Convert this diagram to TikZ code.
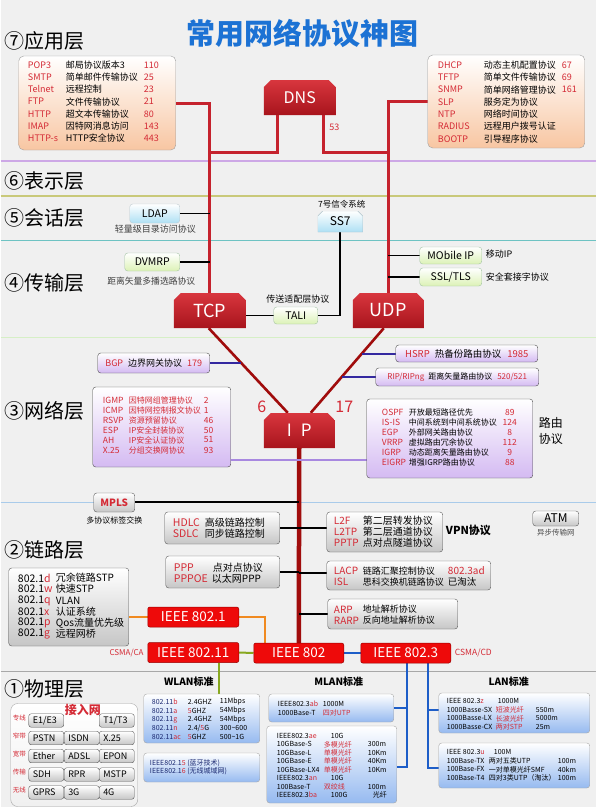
\documentclass[tikz,border=0pt]{standalone}
\usepackage{fontspec}
\setmainfont{Noto Sans CJK SC}
\usetikzlibrary{calc}
\pgfdeclarelayer{bgl}
\pgfdeclarelayer{lnl}
\pgfsetlayers{bgl,lnl,main}

\definecolor{bgc}{HTML}{F0F0F0}
\definecolor{pred}{HTML}{D42A35}
\definecolor{lred}{HTML}{C5222D}
\definecolor{dred}{HTML}{A00C0C}
\definecolor{boxtop}{HTML}{D8363E}
\definecolor{boxbot}{HTML}{A8141C}
\definecolor{ieee}{HTML}{EE0A0A}
\definecolor{purp}{HTML}{D4BAF2}
\definecolor{grn}{HTML}{DCF2B6}
\definecolor{cyn}{HTML}{AEE0F4}
\definecolor{peach}{HTML}{F8C6A2}
\definecolor{gry}{HTML}{C6C6C6}
\definecolor{blu}{HTML}{96BAF0}
\definecolor{titleblue}{HTML}{1C72D4}
\definecolor{bline}{HTML}{3428A0}
\definecolor{pline}{HTML}{A888E0}
\definecolor{oline}{HTML}{F08A20}
\definecolor{gline}{HTML}{88A820}
\definecolor{blline}{HTML}{1E5EC8}
\definecolor{navy}{HTML}{1A2870}
\definecolor{sepA}{HTML}{CDA8E6}
\definecolor{sepB}{HTML}{C9C97A}
\definecolor{sepC}{HTML}{6EC3C3}
\definecolor{sepD}{HTML}{D6EFC6}
\definecolor{sepE}{HTML}{A9CBEA}
\definecolor{sepF}{HTML}{A8A8A8}

\newcommand{\fsz}[1]{\fontsize{#1}{#1}\selectfont}
\newcommand{\rd}[1]{\textcolor{pred}{#1}}

\begin{document}
\begin{tikzpicture}[x=1pt,y=-1pt,
  txt/.style={anchor=west,inner sep=0pt},
  sm/.style={font=\fsz{7}},
  rbox/.style={rounded corners=3pt,inner sep=0pt,top color=white},
  peachbox/.style={rbox,rounded corners=5pt,bottom color=peach,draw=gray!75},
  purpbox/.style={rbox,bottom color=purp,draw=gray!60!black},
  grnbox/.style={rbox,bottom color=grn,draw=green!20!gray!60},
  cynbox/.style={rbox,bottom color=cyn,draw=cyan!20!gray!50},
  grybox/.style={rbox,bottom color=gry,draw=gray!70!black},
  blubox/.style={rbox,bottom color=blu,draw=gray!70},
  bigred/.style={minimum width=#1,minimum height=35pt,inner sep=0pt,text=white,fill=bgc,
    path picture={\shade[top color=boxtop,bottom color=boxbot]
      ([xshift=7pt]path picture bounding box.north west)
      -- ([xshift=-7pt]path picture bounding box.north east)
      -- ([yshift=-7pt]path picture bounding box.north east)
      -- (path picture bounding box.south east)
      -- (path picture bounding box.south west)
      -- ([yshift=-7pt]path picture bounding box.north west) -- cycle;}},
  ss7box/.style={minimum width=45pt,minimum height=21pt,inner sep=0pt,fill=bgc,
    path picture={\shadedraw[top color=white,bottom color=cyn,draw=cyan!25!gray!60]
      ([xshift=5pt]path picture bounding box.north west)
      -- ([xshift=-5pt]path picture bounding box.north east)
      -- ([yshift=-5pt]path picture bounding box.north east)
      -- (path picture bounding box.south east)
      -- (path picture bounding box.south west)
      -- ([yshift=-5pt]path picture bounding box.north west) -- cycle;}},
  ieee/.style={fill=ieee,draw=red!60!black,line width=0.5pt,rounded corners=2pt,text=white,
    font=\fsz{13.5},minimum height=20pt,minimum width=#1,inner sep=0pt},
  btn/.style={grybox,rounded corners=2.5pt,minimum width=35pt,minimum height=13.5pt,
    text width=27pt,align=left,inner xsep=4pt,font=\fsz{9}},
  redl/.style={draw=lred,line width=3pt},
  dredl/.style={draw=dred,line width=2.6pt},
  spine/.style={draw=dred,line width=4.5pt},
  blk/.style={draw=black,line width=1.6pt},
  bpl/.style={draw=bline,line width=2pt},
  ppl/.style={draw=pline,line width=1.6pt},
  orl/.style={draw=oline,line width=2pt},
  grl/.style={draw=gline,line width=2pt},
  bll/.style={draw=blline,line width=2pt}]

% ---------- background and layer separators ----------
\begin{pgfonlayer}{bgl}
\fill[bgc] (0,0) rectangle (595,807);
\draw[sepA,line width=1.5pt] (0,161) -- (595,161);
\draw[sepB,line width=1.5pt] (0,196) -- (595,196);
\draw[sepC,line width=1pt] (0,240) -- (595,240);
\draw[sepD,line width=1pt] (0,337) -- (595,337);
\draw[sepE,line width=1pt] (0,502) -- (595,502);
\draw[sepF,line width=1pt] (0,671) -- (595,671);
\end{pgfonlayer}
\useasboundingbox (0,0) rectangle (595,807);

% ---------- title and layer names ----------
\node[font=\fsz{29}\bfseries,text=titleblue,inner sep=0pt] (title) at (302,33) {常用网络协议神图};
\foreach \lab/\yy [count=\i] in {⑦应用层/41,⑥表示层/181,⑤会话层/218,④传输层/283,③网络层/411,②链路层/550,①物理层/689}
  \node[txt,font=\fsz{20}] (layer\i) at (4,\yy) {\lab};

% ---------- application layer ----------
\node[peachbox,minimum width=157pt,minimum height=94pt] (appL) at (96.5,103) {};
\foreach \n/\d/\p [count=\i] in {POP3/邮局协议版本3/110,SMTP/简单邮件传输协议/25,Telnet/远程控制/23,FTP/文件传输协议/21,HTTP/超文本传输协议/80,IMAP/因特网消息访问/143,HTTP-s/HTTP安全协议/443}{
  \pgfmathsetmacro\yy{65+12.2*(\i-1)}
  \node[txt,text=pred,font=\fsz{9}] (appLn\i) at (27,\yy) {\n};
  \node[txt,font=\fsz{9}] (appLd\i) at (65,\yy) {\d};
  \node[txt,text=pred,font=\fsz{9}] (appLp\i) at (143,\yy) {\p};
}
\node[peachbox,minimum width=157pt,minimum height=93pt] (appR) at (505.5,101.5) {};
\foreach \n/\d/\p [count=\i] in {DHCP/动态主机配置协议/67,TFTP/简单文件传输协议/69,SNMP/简单网络管理协议/161,SLP/服务定为协议/{},NTP/网络时间协议/{},RADIUS/远程用户拨号认证/{},BOOTP/引导程序协议/{}}{
  \pgfmathsetmacro\yy{65+12.3*(\i-1)}
  \node[txt,text=pred,font=\fsz{9}] (appRn\i) at (437,\yy) {\n};
  \node[txt,font=\fsz{9}] (appRd\i) at (483,\yy) {\d};
  \node[txt,text=pred,font=\fsz{9}] (appRp\i) at (561,\yy) {\p};
}
\node[bigred=72pt,font=\fsz{16}] (dns) at (299,97.5) {DNS};
\node[text=pred,font=\fsz{9},inner sep=0pt] (p53) at (333.5,127) {53};

% ---------- session / transport ----------
\node[cynbox,minimum width=50pt,minimum height=19pt,font=\fsz{10.5}] (ldap) at (154,213.5) {LDAP};
\node[font=\fsz{9},text=black!75,inner sep=0pt] (ldapt) at (154.5,229) {轻量级目录访问协议};
\node[grnbox,minimum width=55pt,minimum height=18pt,font=\fsz{10.5}] (dvmrp) at (151.5,262) {DVMRP};
\node[font=\fsz{8.8},text=black!75,inner sep=0pt] (dvmrpt) at (150.5,281) {距离矢量多播选路协议};
\node[ss7box,font=\fsz{12}] (ss7) at (339.5,221.5) {SS7};
\node[font=\fsz{8.5},inner sep=0pt] (ss7t) at (341,204) {7号信令系统};
\node[grnbox,minimum width=62pt,minimum height=17pt,font=\fsz{10.5}] (mob) at (450,255.5) {MObile IP};
\node[txt,font=\fsz{9}] (mobt) at (485,254) {移动IP};
\node[grnbox,minimum width=62pt,minimum height=18pt,font=\fsz{10.5}] (ssl) at (450,277) {SSL/TLS};
\node[txt,font=\fsz{9}] (sslt) at (485,277) {安全套接字协议};
\node[grnbox,minimum width=44pt,minimum height=17pt,font=\fsz{10.5}] (tali) at (295,315.5) {TALI};
\node[font=\fsz{9},inner sep=0pt] (talit) at (297,299) {传送适配层协议};
\node[bigred=72pt,font=\fsz{18}] (tcp) at (209,310.5) {TCP};
\node[bigred=71pt,font=\fsz{18}] (udp) at (387.5,310.5) {UDP};

% ---------- network layer ----------
\node[bigred=71pt,font=\fsz{17}] (ip) at (298.5,430.5) {I\hspace{9pt}P};
\node[text=pred,font=\fsz{16},inner sep=0pt] (n6) at (261,407) {6};
\node[text=pred,font=\fsz{16},inner sep=0pt] (n17) at (343.5,407) {17};
\node[purpbox,minimum width=112pt,minimum height=20pt,font=\fsz{9}] (bgp) at (153,363) {\rd{BGP}\hspace{5pt}边界网关协议\hspace{5pt}\rd{179}};
\node[purpbox,minimum width=142pt,minimum height=17pt,font=\fsz{9.5}] (hsrp) at (466,353.5) {\rd{HSRP}\hspace{5pt}热备份路由协议\hspace{6pt}\rd{1985}};
\node[purpbox,minimum width=163pt,minimum height=18pt,font=\fsz{8}] (rip) at (456.5,377) {\rd{RIP/RIPng}\hspace{4pt}距离矢量路由协议\hspace{5pt}\rd{520/521}};
\node[purpbox,minimum width=138pt,minimum height=80pt] (netL) at (161,427) {};
\foreach \n/\d/\p [count=\i] in {IGMP/因特网组管理协议/2,ICMP/因特网控制报文协议/1,RSVP/资源预留协议/46,ESP/IP安全封装协议/50,AH/IP安全认证协议/51,X.25/分组交换网协议/93}{
  \pgfmathsetmacro\yy{400+10*(\i-1)}
  \node[txt,text=pred,font=\fsz{8.5}] (netLn\i) at (102,\yy) {\n};
  \node[txt,text=pred,font=\fsz{8}] (netLd\i) at (128,\yy) {\d};
  \node[txt,text=pred,font=\fsz{8.5}] (netLp\i) at (203,\yy) {\p};
}
\node[purpbox,minimum width=166pt,minimum height=79pt] (netR) at (449,438.5) {};
\foreach \n/\d/\p [count=\i] in {OSPF/开放最短路径优先/89,IS-IS/中间系统到中间系统协议/124,EGP/外部网关路由协议/8,VRRP/虚拟路由冗余协议/112,IGRP/动态距离矢量路由协议/9,EIGRP/增强IGRP路由协议/88}{
  \pgfmathsetmacro\yy{412+10*(\i-1)}
  \node[txt,text=pred,font=\fsz{8.5}] (netRn\i) at (381,\yy) {\n};
  \node[txt,font=\fsz{8}] (netRd\i) at (408,\yy) {\d};
  \node[text=pred,font=\fsz{8.5},inner sep=0pt] (netRp\i) at (509,\yy) {\p};
}
\node[txt,font=\fsz{12}] (rt1) at (538,423) {路由};
\node[txt,font=\fsz{12}] (rt2) at (538,439) {协议};

% ---------- link layer ----------
\node[grybox,minimum width=41pt,minimum height=19pt,font=\fsz{10}\bfseries,text=pred] (mpls) at (113.5,502.5) {MPLS};
\node[font=\fsz{8},inner sep=0pt] (mplst) at (113.5,520) {多协议标签交换};
\node[grybox,minimum width=115pt,minimum height=32pt] (hdlc) at (221.5,528) {};
\node[txt,text=pred,font=\fsz{10.5}] (hdlc1) at (172,523) {HDLC};
\node[txt,font=\fsz{10}] (hdlc1d) at (204,523) {高级链路控制};
\node[txt,text=pred,font=\fsz{10.5}] (hdlc2) at (172,534) {SDLC};
\node[txt,font=\fsz{10}] (hdlc2d) at (204,534) {同步链路控制};
\node[grybox,minimum width=114pt,minimum height=32pt] (ppp) at (222,572) {};
\node[txt,text=pred,font=\fsz{10.5}] (ppp1) at (173,567.5) {PPP};
\node[txt,font=\fsz{10}] (ppp1d) at (212,567.5) {点对点协议};
\node[txt,text=pred,font=\fsz{10.5}] (ppp2) at (173,578.5) {PPPOE};
\node[txt,font=\fsz{10}] (ppp2d) at (211,578.5) {以太网PPP};
\node[grybox,minimum width=116pt,minimum height=40pt] (l2f) at (384,532) {};
\foreach \n/\d [count=\i] in {L2F/第二层转发协议,L2TP/第二层通道协议,PPTP/点对点隧道协议}{
  \pgfmathsetmacro\yy{521+11*(\i-1)}
  \node[txt,text=pred,font=\fsz{10}] (l2fn\i) at (333,\yy) {\n};
  \node[txt,font=\fsz{10}] (l2fd\i) at (362,\yy) {\d};
}
\node[txt,font=\fsz{11}\bfseries] (vpn) at (445,530) {VPN协议};
\node[grybox,minimum width=164pt,minimum height=29pt] (lacp) at (408,575.5) {};
\node[txt,text=pred,font=\fsz{10}] (lacp1) at (333,571) {LACP};
\node[txt,font=\fsz{9}] (lacp1d) at (362,571) {链路汇聚控制协议};
\node[txt,text=pred,font=\fsz{10}] (lacp1x) at (447,571) {802.3ad};
\node[txt,text=pred,font=\fsz{10}] (lacp2) at (333,582) {ISL};
\node[txt,font=\fsz{9}] (lacp2d) at (362,582) {思科交换机链路协议};
\node[txt,font=\fsz{9.5}] (lacp2x) at (447,582) {已淘汰};
\node[grybox,minimum width=130pt,minimum height=30pt] (arp) at (392,614) {};
\node[txt,text=pred,font=\fsz{10}] (arp1) at (333,609.5) {ARP};
\node[txt,font=\fsz{9}] (arp1d) at (362,609.5) {地址解析协议};
\node[txt,text=pred,font=\fsz{10}] (arp2) at (333,620.5) {RARP};
\node[txt,font=\fsz{9}] (arp2d) at (362,620.5) {反向地址解析协议};
\node[grybox,minimum width=46pt,minimum height=15pt,font=\fsz{12}] (atm) at (555,518.5) {ATM};
\node[font=\fsz{7.5},text=black!70,inner sep=0pt] (atmt) at (555,533) {异步传输网};
\node[grybox,minimum width=120pt,minimum height=78pt] (l8021) at (68,607) {};
\foreach \s/\d [count=\i] in {d/冗余链路STP,w/快速STP,q/VLAN,x/认证系统,p/Qos流量优先级,g/远程网桥}{
  \pgfmathsetmacro\yy{578+11.2*(\i-1)}
  \node[txt,font=\fsz{10.5}] (l8021n\i) at (17,\yy) {802.1\rd{\s}};
  \node[txt,font=\fsz{10}] (l8021d\i) at (55,\yy) {\d};
}
\node[ieee=91pt] (i8021) at (192.5,617) {IEEE 802.1};
\node[ieee=91pt] (i80211) at (192.5,652.5) {IEEE 802.11};
\node[ieee=90pt] (i802) at (298,653) {IEEE 802};
\node[ieee=90pt] (i8023) at (405,653) {IEEE 802.3};
\node[anchor=east,text=pred,font=\fsz{8},inner sep=0pt] (csmaca) at (143,653) {CSMA/CA};
\node[txt,text=pred,font=\fsz{8.5}] (csmacd) at (454,653) {CSMA/CD};

% ---------- physical layer ----------
\node[font=\fsz{10}\bfseries,inner sep=0pt] (wlanh) at (188,682) {WLAN标准};
\node[font=\fsz{10}\bfseries,inner sep=0pt] (mlanh) at (338,682) {MLAN标准};
\node[font=\fsz{10}\bfseries,inner sep=0pt] (lanh) at (508,682) {LAN标准};

\node[blubox,minimum width=116pt,minimum height=49pt] (wlan) at (201,718.5) {};
\foreach \s/\f/\r [count=\i] in {b/2.4GHZ/11Mbps,a/{\rd{5}GHZ}/54Mbps,g/2.4GHZ/54Mbps,n/{2.4/\rd{5}G}/{300\textasciitilde600},ac/{\rd{5}GHZ}/{500\textasciitilde1G}}{
  \pgfmathsetmacro\yy{702+8.7*(\i-1)}
  \node[txt,sm,text=navy] (wla\i) at (151,\yy) {802.11\rd{\s}};
  \node[txt,sm] (wlb\i) at (187,\yy) {\f};
  \node[txt,sm] (wlc\i) at (219,\yy) {\r};
}
\node[blubox,minimum width=116pt,minimum height=29pt] (w15) at (201,767.5) {};
\node[txt,sm,text=navy] (w15a) at (149,763) {IEEE802.1\rd{5} (蓝牙技术)};
\node[txt,sm,text=navy] (w15b) at (149,771.5) {IEEE802.1\rd{6} (无线城域网)};

\node[blubox,minimum width=125pt,minimum height=28pt] (mlan1) at (330.5,708) {};
\node[txt,sm] (ma1) at (277,704) {IEEE802.3\rd{ab}};
\node[txt,sm] (ma1x) at (322,704) {1000M};
\node[txt,sm] (ma2) at (277,713) {1000Base-T};
\node[txt,sm] (ma2x) at (322,713) {\rd{四对UTP}};

\node[blubox,minimum width=130pt,minimum height=77pt] (mlan2) at (331,764.5) {};
\node[txt,sm] (mb1) at (276,736) {IEEE802.3\rd{ae}};
\node[txt,sm] (mb1x) at (330,736) {10G};
\foreach \n/\d/\l/\yy [count=\i from 2] in {10GBase-S/多模光纤/300m/744.4,10GBase-L/单模光纤/10Km/752.9,10GBase-E/单模光纤/40Km/761.3,10GBase-LX4/单模光纤/10Km/769.7}{
  \node[txt,sm] (mb\i) at (276,\yy) {\n};
  \node[txt,sm] (mbd\i) at (323,\yy) {\rd{\d}};
  \node[txt,sm] (mbl\i) at (367,\yy) {\l};
}
\node[txt,sm] (mb6) at (276,778.2) {IEEE802.3\rd{an}};
\node[txt,sm] (mb6x) at (330,778.2) {10G};
\node[txt,sm] (mb7) at (276,786.6) {100Base-T};
\node[txt,sm] (mb7d) at (323,786.6) {\rd{双绞线}};
\node[txt,sm] (mb7l) at (367,786.6) {100m};
\node[txt,sm] (mb8) at (276,795) {IEEE802.3\rd{ba}};
\node[txt,sm] (mb8x) at (330,795) {100G};
\node[txt,sm] (mb8y) at (372,795) {光纤};

\node[blubox,minimum width=151pt,minimum height=40pt] (lan1) at (513.5,713) {};
\node[txt,sm] (la1) at (446,701) {IEEE 802.3\rd{z}};
\node[txt,sm] (la1x) at (497,701) {1000M};
\foreach \n/\d/\l [count=\i from 2] in {1000Basse-SX/短波光纤/550m,1000Basse-LX/长波光纤/5000m,1000Basse-CX/两对STP/25m}{
  \pgfmathsetmacro\yy{701+8.7*(\i-1)}
  \node[txt,sm] (la\i) at (446,\yy) {\n};
  \node[txt,sm] (lad\i) at (495,\yy) {\rd{\d}};
  \node[txt,sm] (lal\i) at (535,\yy) {\l};
}
\node[blubox,minimum width=151pt,minimum height=45pt] (lan2) at (513.5,765.5) {};
\node[txt,sm] (lb1) at (446,752) {IEEE 802.3\rd{u}};
\node[txt,sm] (lb1x) at (493,752) {100M};
\foreach \n/\d/\l [count=\i from 2] in {100Base-TX/两对五类UTP/100m,100Base-FX/一对单模光纤SMF/40km,100Base-T4/四对3类UTP（淘汰）/100m}{
  \pgfmathsetmacro\yy{752+8.7*(\i-1)}
  \node[txt,sm] (lb\i) at (446,\yy) {\n};
  \node[txt,sm] (lbd\i) at (488,\yy) {\d};
  \node[txt,sm] (lbl\i) at (557,\yy) {\l};
}

% access network panel
\node[draw=gray!70,rounded corners=7pt,top color=white,bottom color=gray!12,minimum width=127pt,minimum height=103pt,inner sep=0pt] (acc) at (73.5,755) {};
\node[text=pred,font=\fsz{12}\bfseries,inner sep=0pt] (acch) at (82,710) {接入网};
\foreach \lab/\yy [count=\i] in {专线/718,窄带/736,宽带/754,传输/772,无线/790}
  \node[txt,text=pred,font=\fsz{6.5}] (accl\i) at (12,\yy) {\lab};
\node[btn] (b11) at (45.5,720.5) {E1/E3};
\node[btn] (b13) at (116,720.5) {T1/T3};
\foreach \a/\b/\c/\yy [count=\i from 2] in {PSTN/ISDN/X.25/738,Ether/ADSL/EPON/756,SDH/RPR/MSTP/774.5,GPRS/3G/4G/792.5}{
  \node[btn] (b\i1) at (45.5,\yy) {\a};
  \node[btn] (b\i2) at (81,\yy) {\b};
  \node[btn] (b\i3) at (116,\yy) {\c};
}

% ---------- connectors ----------
\begin{pgfonlayer}{lnl}
\coordinate (dnsjl) at (277,152);
\coordinate (dnsjr) at (323,152);
\draw[redl] (appL.east) -| (tcp.north);
\draw[redl] (appR.west) -| (udp.north);
\draw[redl] (tcp.north |- dnsjl) -- (dnsjl) -- (dnsjl |- dns.south);
\draw[redl] (udp.north |- dnsjr) -- (dnsjr) -- (dnsjr |- dns.south);

\draw[blk] (ldap.east) -- (ldap.east -| tcp.north);
\draw[blk] (dvmrp.east) -- (dvmrp.east -| tcp.north);
\draw[blk] (mob.west) -- (mob.west -| udp.north);
\draw[blk] (ssl.west) -- (ssl.west -| udp.north);
\draw[blk] (tali.west -| tcp.east) -- (tali.west);
\draw[blk] (tali.east) -| (ss7.south);

\coordinate (ipL) at ([xshift=-11.5pt]ip.north);
\coordinate (ipR) at ([xshift=11.5pt]ip.north);
\coordinate (tcpS) at ([xshift=-1pt]tcp.south);
\coordinate (udpS) at ([xshift=-4.5pt]udp.south);
\draw[dredl] (tcpS) -- (ipL);
\draw[dredl] (udpS) -- (ipR);
\draw[spine] (ip.south) -- (i802.north);

\coordinate (bgpj) at ($(tcpS)!0.412!(ipL)$);
\coordinate (hsrpj) at ($(udpS)!0.3!(ipR)$);
\coordinate (ripj) at ($(udpS)!0.576!(ipR)$);
\draw[bpl] (bgp.east) -- (bgp.east -| bgpj);
\draw[bpl] (hsrp.west) -- (hsrp.west -| hsrpj);
\draw[bpl] (rip.west) -- (rip.west -| ripj);

\coordinate (netLe) at ([yshift=-33pt]netL.east);
\coordinate (netRw) at ([yshift=-21.5pt]netR.west);
\draw[ppl] (netLe) -- (netLe -| ip.south);
\draw[ppl] (netRw) -- (netRw -| ip.south);

\coordinate (mplsj) at ([yshift=-53.5pt]ip.south);
\draw[blk] (mpls.north) |- (mplsj);
\draw[blk] (hdlc.east) -- (hdlc.east -| ip.south);
\draw[blk] (ppp.east) -- (ppp.east -| ip.south);
\coordinate (l2fw) at ([yshift=4pt]l2f.west);
\coordinate (lacpw) at ([yshift=2.5pt]lacp.west);
\draw[blk] (l2fw) -- (l2fw -| ip.south);
\draw[blk] (lacpw) -- (lacpw -| ip.south);
\draw[blk] (arp.west) -- (arp.west -| ip.south);

\coordinate (orj) at ([xshift=-34pt]i802.north);
\draw[orl] (i8021.west -| l8021.east) -- (i8021.west);
\draw[orl] (i8021.east) -| (orj);
\coordinate (grj) at ([xshift=26pt]i80211.south);
\draw[grl] (i80211.east) -- (i802.west);
\draw[grl] (grj) -- (grj |- wlan.north);
\draw[bll] (i802.east) -- (i8023.west);
\coordinate (mlj) at ([xshift=1pt]i8023.south);
\coordinate (m2e) at ([yshift=-2.5pt]mlan2.east);
\draw[bll] (mlj) |- (m2e);
\draw[bll] (mlan1.east) -| (mlj);
\coordinate (lnj) at ([xshift=22pt]i8023.south);
\coordinate (l1w) at ([yshift=3pt]lan1.west);
\coordinate (l2w) at ([yshift=-2.5pt]lan2.west);
\draw[bll] (lnj) |- (l2w);
\draw[bll] (l1w) -| (lnj);
\end{pgfonlayer}
\end{tikzpicture}
\end{document}
